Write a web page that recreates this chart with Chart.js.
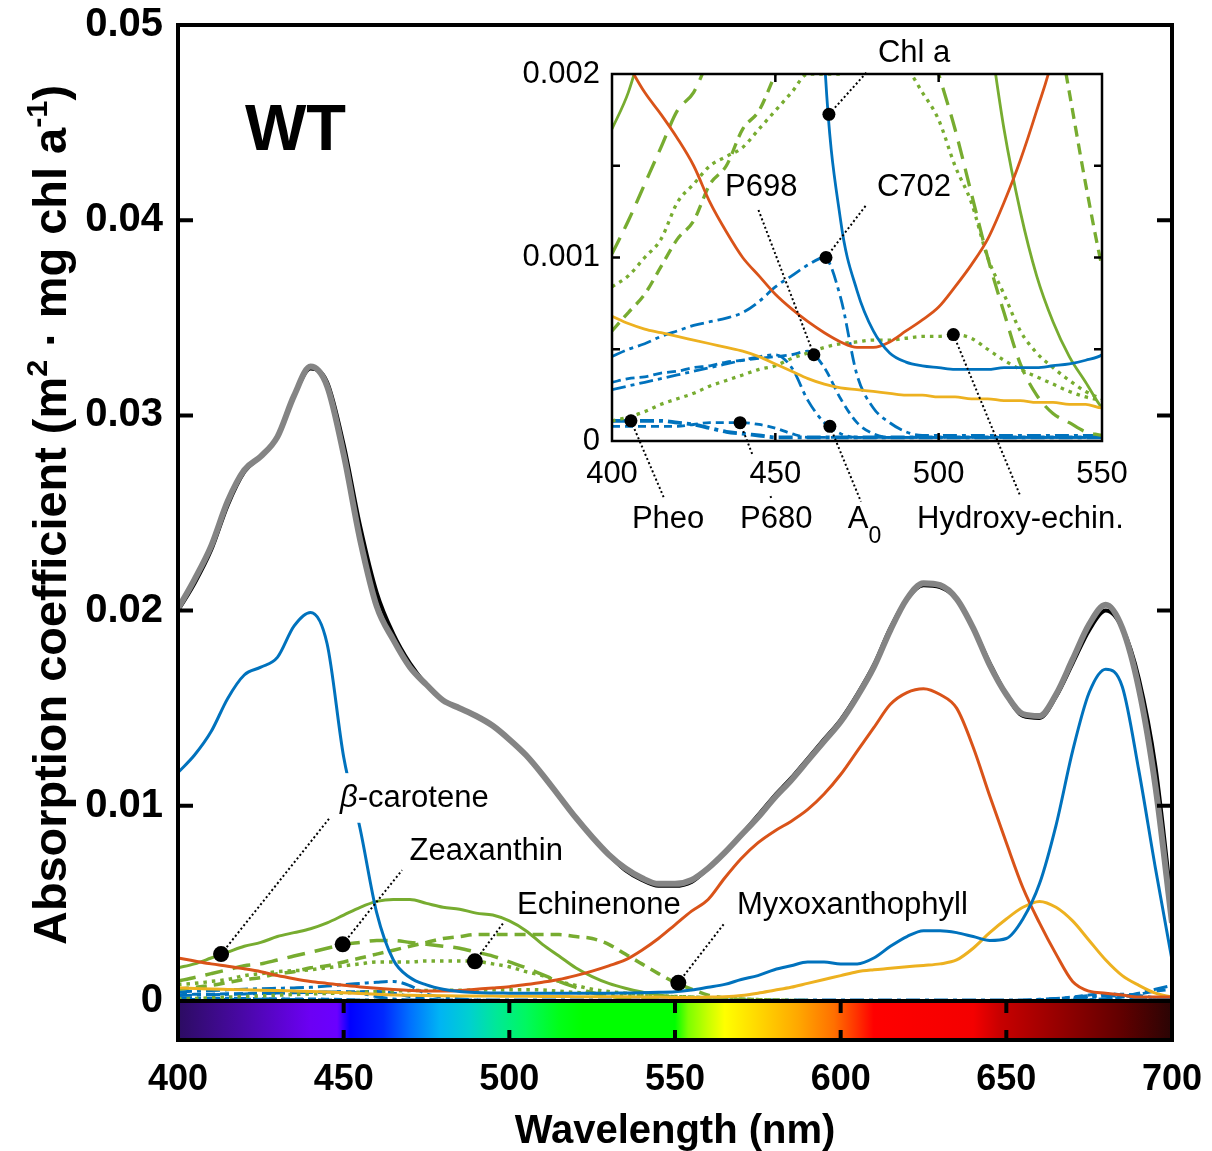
<!DOCTYPE html>
<html>
<head>
<meta charset="utf-8">
<script src="https://cdn.jsdelivr.net/npm/chart.js@4.4.0/dist/chart.umd.min.js"></script>
<style>
  html, body { margin: 0; padding: 0; background: #fff; }
  #wrap { position: relative; width: 1212px; height: 1151px; overflow: hidden; }
  #main { position: absolute; left: 0; top: 0; }
  #inset { position: absolute; left: 480px; top: 20px; }
</style>
</head>
<body>
<div id="wrap">
  <canvas id="main" width="1212" height="1151"></canvas>
  <canvas id="inset" width="680" height="540"></canvas>
</div>
<script>
// wavelength grid (nm), rows of 10: 400-445, 450-495, 500-545, 550-595, 600-645, 650-695, 700
const wavelengths = [
  400,405,410,415,420,425,430,435,440,445,
  450,455,460,465,470,475,480,485,490,495,
  500,505,510,515,520,525,530,535,540,545,
  550,555,560,565,570,575,580,585,590,595,
  600,605,610,615,620,625,630,635,640,645,
  650,655,660,665,670,675,680,685,690,695,
  700
];

// measured total absorption (black)
const totalMeasured = [
  0.0200,0.0214,0.0231,0.0254,0.0271,0.0279,0.0289,0.0310,0.0324,0.0317,
  0.0285,0.0243,0.0209,0.0188,0.0173,0.0162,0.0154,0.0150,0.0146,0.0141,
  0.0134,0.0126,0.0116,0.0105,0.0094,0.0084,0.0075,0.0067,0.0062,0.0059,
  0.0059,0.0061,0.0068,0.0076,0.0085,0.0095,0.0105,0.0114,0.0124,0.0134,
  0.0144,0.0157,0.0172,0.0191,0.0206,0.0213,0.0212,0.0206,0.0191,0.0173,
  0.0157,0.0146,0.0145,0.0156,0.0173,0.0190,0.0200,0.0191,0.0165,0.0120,
  0.0048
];
// reconstructed sum (grey)
const totalFitted = [
  0.0201,0.0216,0.0233,0.0256,0.0272,0.0279,0.0289,0.0310,0.0325,0.0315,
  0.0280,0.0236,0.0202,0.0185,0.0171,0.0162,0.0154,0.0150,0.0146,0.0141,
  0.0134,0.0126,0.0116,0.0105,0.0094,0.0084,0.0075,0.0068,0.0063,0.0060,
  0.0060,0.0062,0.0068,0.0076,0.0085,0.0094,0.0104,0.0113,0.0123,0.0133,
  0.0143,0.0156,0.0171,0.0190,0.0206,0.0214,0.0213,0.0206,0.0191,0.0172,
  0.0157,0.0147,0.0146,0.0157,0.0175,0.0193,0.0203,0.0191,0.0160,0.0110,
  0.0040
];
const chlA = [
  0.0117,0.0126,0.0138,0.0155,0.0167,0.0171,0.0176,0.0192,0.0199,0.0183,
  0.0125,0.0088,0.0045,0.0021,0.0012,0.00082,0.0006,0.00048,0.00043,0.00041,
  0.0004,0.00039,0.00039,0.00039,0.0004,0.0004,0.0004,0.00041,0.00042,0.00044,
  0.00047,0.00056,0.0007,0.00085,0.0011,0.0013,0.0016,0.0018,0.0020,0.0020,
  0.0019,0.0019,0.0022,0.0028,0.0033,0.0036,0.0036,0.0035,0.0033,0.0031,
  0.0032,0.0042,0.0060,0.0090,0.0128,0.0158,0.0170,0.0161,0.0118,0.0068,
  0.0021
];
const phycocyanin = [
  0.0022,0.00205,0.0019,0.00178,0.00165,0.0015,0.0013,0.00114,0.001,0.0009,
  0.0008,0.00072,0.00065,0.00059,0.00054,0.00051,0.00051,0.00054,0.0006,0.00066,
  0.00073,0.00084,0.00096,0.0011,0.0013,0.00153,0.0018,0.0021,0.0026,0.0032,
  0.0039,0.0046,0.0052,0.0063,0.0073,0.0081,0.0087,0.0092,0.0098,0.0106,
  0.0116,0.0128,0.0140,0.0152,0.0158,0.0160,0.0157,0.0150,0.0130,0.0105,
  0.0081,0.0058,0.0040,0.0024,0.0010,0.0005,0.0004,0.0003,0.0002,0.0002,
  0.0002
];
const allophycocyanin = [
  0.00068,0.00064,0.00061,0.00059,0.00057,0.00055,0.00053,0.00051,0.00049,0.00046,
  0.00042,0.00038,0.00034,0.00031,0.00029,0.00028,0.00027,0.00026,0.00025,0.00025,
  0.00024,0.00024,0.00023,0.00023,0.00022,0.00022,0.00021,0.00021,0.0002,0.0002,
  0.00018,0.00018,0.0002,0.00022,0.00028,0.0004,0.00055,0.0007,0.0009,0.0011,
  0.0013,0.0015,0.0016,0.00167,0.00175,0.00182,0.0019,0.0021,0.0027,0.0035,
  0.0042,0.0048,0.0051,0.0048,0.0041,0.0031,0.0021,0.0013,0.0008,0.0004,
  0.0002
];
const betaCarotene = [
  0.0017,0.0019,0.0022,0.0025,0.0028,0.0030,0.0033,0.0035,0.0037,0.0040,
  0.0044,0.0048,0.0051,0.0052,0.0052,0.0050,0.0048,0.0047,0.0045,0.0044,
  0.0041,0.0036,0.0029,0.0023,0.0017,0.00125,0.0009,0.00065,0.00046,0.00032,
  0.00018,0.0001,0.00006,0.00003,0.00002,0.00001,0,0,0,0,
  0,0,0,0,0,0,0,0,0,0,
  0,0,0,0,0,0,0,0,0,0,
  0
];
const zeaxanthin = [
  0.00102,0.0012,0.0014,0.0016,0.0018,0.0019,0.0021,0.0023,0.0025,0.0027,
  0.0029,0.0030,0.0031,0.0031,0.0030,0.0029,0.0028,0.0027,0.0025,0.0023,
  0.0020,0.0017,0.00135,0.0010,0.0007,0.00042,0.00025,0.00015,0.0001,0.00005,
  0.00003,0,0,0,0,0,0,0,0,0,
  0,0,0,0,0,0,0,0,0,0,
  0,0,0,0,0,0,0,0,0,0,
  0
];
const myxoxanthophyll = [
  0.0006,0.0007,0.0008,0.00095,0.0011,0.0012,0.0014,0.0015,0.0017,0.0018,
  0.0020,0.0022,0.0024,0.0026,0.0028,0.0030,0.0032,0.0033,0.0034,0.0034,
  0.0034,0.0034,0.0034,0.0034,0.0033,0.0032,0.0029,0.0024,0.0019,0.0014,
  0.00095,0.0006,0.0003,0.00015,0.00005,0,0,0,0,0,
  0,0,0,0,0,0,0,0,0,0,
  0,0,0,0,0,0,0,0,0,0,
  0
];
const echinenone = [
  0.00084,0.0009,0.001,0.0011,0.0013,0.0014,0.0015,0.00155,0.0016,0.0017,
  0.0018,0.0019,0.0020,0.0020,0.0020,0.00205,0.00205,0.00205,0.00203,0.0019,
  0.00175,0.0015,0.0013,0.001,0.0008,0.0006,0.00048,0.0004,0.00033,0.00027,
  0.00023,0.0002,0.00015,0.00012,0.0001,0.00007,0.00005,0.00003,0.00002,0,
  0,0,0,0,0,0,0,0,0,0,
  0,0,0,0,0,0,0,0,0,0,
  0
];
const hydroxyEchinenone = [
  0.00011,0.00013,0.00016,0.0002,0.00023,0.00026,0.0003,0.00033,0.00036,0.00039,
  0.00041,0.00045,0.00048,0.00051,0.00053,0.00054,0.00055,0.00055,0.00056,0.00057,
  0.00057,0.00058,0.00056,0.0005,0.00044,0.00039,0.00035,0.00031,0.00027,0.00024,
  0.00022,0.0002,0.00017,0.00014,0.0001,0.00007,0.00005,0.00003,0.00002,0,
  0,0,0,0,0,0,0,0,0,0,
  0,0,0,0,0,0,0,0,0,0,
  0
];
const c702 = [
  0.00046,0.0005,0.00053,0.00057,0.0006,0.00063,0.00065,0.00067,0.0007,0.00076,
  0.00084,0.0009,0.00096,0.001,0.00078,0.00036,0.00018,0.0001,0.00005,0.00003,
  0.00003,0.00003,0.00003,0.00003,0.00003,0.00003,0.00003,0.00003,0.00003,0.00003,
  0.00003,0.00003,0.00003,0.00003,0.00003,0.00003,0.00003,0.00003,0.00003,0.00003,
  0.00003,0.00003,0.00003,0.00003,0.00003,0.00003,0.00003,0.00003,0.00003,0.00003,
  0.00003,0.00003,0.00003,0.00003,0.00004,0.00006,0.00012,0.00022,0.0004,0.0006,
  0.0008
];
const p698 = [
  0.00032,0.00034,0.00035,0.00037,0.00038,0.0004,0.00041,0.00043,0.00044,0.00045,
  0.00046,0.00047,0.00049,0.0004,0.00023,0.0001,0.00004,0.00002,0.00002,0.00002,
  0.00002,0.00002,0.00002,0.00002,0.00002,0.00002,0.00002,0.00002,0.00002,0.00002,
  0.00002,0.00002,0.00002,0.00002,0.00002,0.00002,0.00002,0.00002,0.00002,0.00002,
  0.00002,0.00002,0.00002,0.00002,0.00002,0.00002,0.00002,0.00002,0.00002,0.00002,
  0.00002,0.00002,0.00002,0.00002,0.00002,0.00005,0.0001,0.0002,0.00035,0.0005,
  0.0006
];
const a0 = [
  0.00028,0.0003,0.00032,0.00034,0.00036,0.00038,0.0004,0.00042,0.00044,0.00046,
  0.00047,0.0004,0.00022,0.0001,0.00004,0.00002,0.00002,0.00002,0.00002,0.00002,
  0.00002,0.00002,0.00002,0.00002,0.00002,0.00002,0.00002,0.00002,0.00002,0.00002,
  0.00002,0.00002,0.00002,0.00002,0.00002,0.00002,0.00002,0.00002,0.00002,0.00002,
  0.00002,0.00002,0.00002,0.00002,0.00002,0.00002,0.00002,0.00002,0.00002,0.00002,
  0.00002,0.00002,0.00002,0.00005,0.0001,0.00018,0.00028,0.00034,0.00028,0.00016,
  0.00008
];
const p680 = [
  0.00008,0.00008,0.00008,0.00008,0.00008,0.00009,0.0001,0.0001,0.0001,0.00009,
  0.00007,0.00004,0.00002,0.00002,0.00002,0.00002,0.00002,0.00002,0.00002,0.00002,
  0.00002,0.00002,0.00002,0.00002,0.00002,0.00002,0.00002,0.00002,0.00002,0.00002,
  0.00002,0.00002,0.00002,0.00002,0.00002,0.00002,0.00002,0.00002,0.00002,0.00002,
  0.00002,0.00002,0.00002,0.00002,0.00002,0.00002,0.00002,0.00002,0.00002,0.00002,
  0.00002,0.00004,0.00007,0.00012,0.0002,0.0003,0.00038,0.0003,0.00016,0.00008,
  0.00004
];
const pheo = [
  0.00011,0.00011,0.00011,0.00011,0.0001,0.00009,0.00007,0.00005,0.00004,0.00003,
  0.00002,0.00002,0.00002,0.00002,0.00002,0.00002,0.00002,0.00002,0.00002,0.00002,
  0.00002,0.00002,0.00002,0.00002,0.00002,0.00002,0.00002,0.00002,0.00002,0.00002,
  0.00002,0.00002,0.00002,0.00002,0.00002,0.00002,0.00002,0.00002,0.00002,0.00002,
  0.00002,0.00002,0.00002,0.00002,0.00002,0.00002,0.00002,0.00002,0.00002,0.00002,
  0.00002,0.00002,0.00006,0.0001,0.00015,0.00025,0.0003,0.00025,0.00015,0.0001,
  0.00006
];

// axes
const xTicksMain = [400, 450, 500, 550, 600, 650, 700];
const yTicksMain = [0, 0.01, 0.02, 0.03, 0.04, 0.05];
const yTickLabelsMain = ['0', '0.01', '0.02', '0.03', '0.04', '0.05'];
const xTicksInset = [400, 450, 500, 550];
const yTicksInset = [0, 0.001, 0.002];
const yTickLabelsInset = ['0', '0.001', '0.002'];
const insetXMarks = [450, 500];
const insetYMarks = [0.0005, 0.001, 0.0015];

// visible spectrum strip under the axis
const spectrumStops = [
  [400,'#2c0c62'],[420,'#4a08a8'],[440,'#6c00f4'],[448,'#6a00ff'],[452,'#0000ff'],
  [462,'#0028ff'],[470,'#0070ff'],[479,'#00b4f4'],[488,'#00d0d0'],[496,'#00e898'],
  [505,'#00f860'],[515,'#00ff18'],[522,'#00ff00'],[550,'#00ff00'],[554,'#7cff00'],
  [560,'#c8ff00'],[565,'#ffff00'],[575,'#ffd800'],[587,'#ffa800'],[598,'#ff7000'],
  [605,'#ff3000'],[610,'#ff0000'],[640,'#f40000'],[648,'#c80000'],[665,'#980000'],
  [685,'#600000'],[700,'#2a0404']
];

const FONT = '"Liberation Sans", Arial, Helvetica, sans-serif';
const BLUE = '#0072BD', RED = '#D95319', YELLOW = '#EDB120', GREEN = '#77AC30', GREY = '#848484';

function pts(vals) {
  return wavelengths.map((w, i) => ({ x: w, y: vals[i] }));
}
function line(label, vals, color, width, dash) {
  return {
    label, data: pts(vals), borderColor: color, borderWidth: width,
    borderDash: dash || [], pointRadius: 0, fill: false,
    cubicInterpolationMode: 'monotone', borderCapStyle: 'butt', clip: 0
  };
}
function pigmentSets(w) {
  return [
    line('Chl a', chlA, BLUE, w),
    line('Phycocyanin', phycocyanin, RED, w),
    line('Allophycocyanin', allophycocyanin, YELLOW, w),
    line('beta-carotene', betaCarotene, GREEN, w),
    line('Zeaxanthin', zeaxanthin, GREEN, w + 0.5, [18, 10]),
    line('Myxoxanthophyll', myxoxanthophyll, GREEN, w + 0.5, [11, 7]),
    line('Echinenone', echinenone, GREEN, w + 0.5, [3.5, 5]),
    line('Hydroxy-echinenone', hydroxyEchinenone, GREEN, w + 0.5, [3.5, 5]),
    line('C702', c702, BLUE, w, [14, 5, 4, 5]),
    line('P698', p698, BLUE, w, [9, 5]),
    line('A0', a0, BLUE, w, [14, 5, 4, 5]),
    line('P680', p680, BLUE, w, [8, 5]),
    line('Pheo', pheo, BLUE, w + 1, [14, 5, 4, 5])
  ];
}

// labels with a dot on the curve and a dotted leader
const mainNotes = [
  { pieces: [{ t: 'β', it: true }, { t: '-carotene' }], at: [448.9, 0.0104], dot: [413, 0.0024],
    leaders: [[[413, 0.0024], [445.9, 0.0094]]], bg: true },
  { pieces: [{ t: 'Zeaxanthin' }], at: [469.9, 0.00768], dot: [449.7, 0.0029],
    leaders: [[[449.7, 0.0029], [467.6, 0.0067]]] },
  { pieces: [{ t: 'Echinenone' }], at: [502.3, 0.00487], dot: [489.6, 0.00203],
    leaders: [[[489.6, 0.00203], [498.2, 0.0040]]] },
  { pieces: [{ t: 'Myxoxanthophyll' }], at: [568.7, 0.00487], dot: [551, 0.00093],
    leaders: [[[551, 0.00093], [565, 0.0040]]] }
];
const insetNotes = [
  { pieces: [{ t: 'Chl a' }], at: [481.4, 0.00211], dot: [466.4, 0.00178],
    leaders: [[[466.4, 0.00178], [478, 0.00201]]] },
  { pieces: [{ t: 'P698' }], at: [434.6, 0.00138], dot: [461.8, 0.00047],
    leaders: [[[461.8, 0.00047], [444.6, 0.00127]]] },
  { pieces: [{ t: 'C702' }], at: [481.1, 0.00138], dot: [465.5, 0.001],
    leaders: [[[465.5, 0.001], [478, 0.00129]]] },
  { pieces: [{ t: 'Pheo' }], at: [406.1, -0.00043], dot: [405.8, 0.00011],
    leaders: [[[405.8, 0.00011], [415.9, -0.00031]]] },
  { pieces: [{ t: 'P680' }], at: [439.2, -0.00043], dot: [439.2, 0.0001],
    leaders: [[[439.2, 0.0001], [442.9, -0.00007]], [[448.5, -0.0003], [449, -0.00032]]] },
  { pieces: [{ t: 'A' }, { t: '0', sub: true }], at: [472.2, -0.00043], dot: [466.7, 0.00008],
    leaders: [[[466.7, 0.00008], [476.2, -0.00033]]] },
  { pieces: [{ t: 'Hydroxy-echin.' }], at: [493.4, -0.00043], dot: [504.5, 0.00058],
    leaders: [[[504.5, 0.00058], [525, -0.0003]]] }
];

function drawNote(ctx, xs, ys, n, r, fs) {
  const P = p => [xs.getPixelForValue(p[0]), ys.getPixelForValue(p[1])];
  ctx.save();
  ctx.strokeStyle = '#000';
  ctx.fillStyle = '#000';
  ctx.lineWidth = 2;
  ctx.setLineDash([2, 2.5]);
  n.leaders.forEach(seg => {
    const s = P(seg[0]), e = P(seg[1]);
    ctx.beginPath(); ctx.moveTo(s[0], s[1]); ctx.lineTo(e[0], e[1]); ctx.stroke();
  });
  ctx.setLineDash([]);
  const t = P(n.at);
  ctx.textBaseline = 'middle';
  ctx.textAlign = 'left';
  const fontOf = p => (p.it ? 'italic ' : '') + (p.sub ? Math.round(fs * 0.75) : fs) + 'px ' + FONT;
  let total = 0;
  n.pieces.forEach(p => { ctx.font = fontOf(p); p.w = ctx.measureText(p.t).width; total += p.w; });
  if (n.bg) {
    ctx.fillStyle = '#fff';
    ctx.fillRect(t[0] - 4, t[1] - fs * 0.8, total + 8, fs * 1.6);
    ctx.fillStyle = '#000';
  }
  let cx = t[0];
  n.pieces.forEach(p => {
    ctx.font = fontOf(p);
    ctx.fillText(p.t, cx, p.sub ? t[1] + fs * 0.55 : t[1]);
    cx += p.w;
  });
  const d = P(n.dot);
  ctx.beginPath(); ctx.arc(d[0], d[1], r, 0, Math.PI * 2); ctx.fill();
  ctx.restore();
}

function drawYTitle(ctx, cx, cy, len) {
  const parts = [
    { t: 'Absorption coefficient (m' }, { t: '2', sup: true },
    { t: ' · mg chl a' }, { t: '-1', sup: true }, { t: ')' }
  ];
  const fs = 46, fsSup = 30;
  ctx.save();
  let total = 0;
  parts.forEach(p => { ctx.font = 'bold ' + (p.sup ? fsSup : fs) + 'px ' + FONT; p.w = ctx.measureText(p.t).width; total += p.w; });
  ctx.translate(cx, cy);
  ctx.rotate(-Math.PI / 2);
  ctx.scale(len / total, 1);
  ctx.fillStyle = '#000';
  ctx.textBaseline = 'alphabetic';
  ctx.textAlign = 'left';
  let x = -total / 2;
  parts.forEach(p => {
    ctx.font = 'bold ' + (p.sup ? fsSup : fs) + 'px ' + FONT;
    ctx.fillText(p.t, x, p.sup ? -19 : 0);
    x += p.w;
  });
  ctx.restore();
}

// keep the plot box where the layout padding puts it
function noEdgePadding(s) {
  s.paddingTop = 0; s.paddingBottom = 0; s.paddingLeft = 0; s.paddingRight = 0;
}

const mainDecor = {
  id: 'mainDecor',
  beforeDatasetsDraw(chart) {
    const { ctx, chartArea: a, scales: { x, y } } = chart;
    const y0 = y.getPixelForValue(0);
    const g = ctx.createLinearGradient(a.left, 0, a.right, 0);
    spectrumStops.forEach(([w, c]) => g.addColorStop((x.getPixelForValue(w) - a.left) / (a.right - a.left), c));
    ctx.save();
    ctx.fillStyle = g;
    ctx.fillRect(a.left, y0, a.right - a.left, a.bottom - y0);
    ctx.restore();
  },
  afterDatasetsDraw(chart) {
    const { ctx, chartArea: a, scales: { x, y } } = chart;
    const y0 = y.getPixelForValue(0);
    ctx.save();
    ctx.strokeStyle = '#000';
    ctx.lineWidth = 4;
    ctx.beginPath();
    ctx.moveTo(a.left, y0); ctx.lineTo(a.right, y0);
    yTicksMain.forEach(v => {
      if (v <= 0 || v >= 0.05) return;
      const py = y.getPixelForValue(v);
      ctx.moveTo(a.left, py); ctx.lineTo(a.left + 15, py);
      ctx.moveTo(a.right, py); ctx.lineTo(a.right - 15, py);
    });
    xTicksMain.forEach(v => {
      if (v <= 400 || v >= 700) return;
      const px = x.getPixelForValue(v);
      ctx.moveTo(px, y0); ctx.lineTo(px, y0 + 12);
      ctx.moveTo(px, a.bottom); ctx.lineTo(px, a.bottom - 10);
    });
    ctx.stroke();
    ctx.strokeRect(a.left, a.top, a.right - a.left, a.bottom - a.top);
    ctx.restore();

    mainNotes.forEach(n => drawNote(ctx, x, y, n, 8, 31));

    ctx.save();
    ctx.fillStyle = '#000';
    ctx.font = 'bold 65px ' + FONT;
    ctx.textBaseline = 'alphabetic';
    ctx.textAlign = 'left';
    ctx.fillText('WT', x.getPixelForValue(420.2), y.getPixelForValue(0.0436));
    ctx.restore();
  },
  afterDraw(chart) {
    const { ctx, chartArea: a } = chart;
    drawYTitle(ctx, 66, 515, 860);
    ctx.save();
    ctx.fillStyle = '#000';
    ctx.font = 'bold 40px ' + FONT;
    ctx.textAlign = 'center';
    ctx.textBaseline = 'alphabetic';
    ctx.fillText('Wavelength (nm)', (a.left + a.right) / 2, 1143);
    ctx.restore();
  }
};

const insetDecor = {
  id: 'insetDecor',
  beforeDatasetsDraw(chart) {
    const { ctx, chartArea: a } = chart;
    ctx.save();
    ctx.fillStyle = '#fff';
    ctx.fillRect(a.left, a.top, a.right - a.left, a.bottom - a.top);
    ctx.restore();
  },
  afterDatasetsDraw(chart) {
    const { ctx, chartArea: a, scales: { x, y } } = chart;
    ctx.save();
    ctx.strokeStyle = '#000';
    ctx.lineWidth = 2.5;
    ctx.beginPath();
    insetYMarks.forEach(v => {
      const py = y.getPixelForValue(v);
      ctx.moveTo(a.left, py); ctx.lineTo(a.left + 8, py);
      ctx.moveTo(a.right, py); ctx.lineTo(a.right - 8, py);
    });
    insetXMarks.forEach(v => {
      const px = x.getPixelForValue(v);
      ctx.moveTo(px, a.top); ctx.lineTo(px, a.top + 8);
      ctx.moveTo(px, a.bottom); ctx.lineTo(px, a.bottom - 8);
    });
    ctx.stroke();
    ctx.strokeRect(a.left, a.top, a.right - a.left, a.bottom - a.top);
    ctx.restore();
    insetNotes.forEach(n => drawNote(ctx, x, y, n, 6.5, 31));
  }
};

Chart.defaults.font.family = FONT;
Chart.defaults.color = '#000';

new Chart(document.getElementById('main'), {
  type: 'line',
  data: {
    datasets: [
      line('Fitted sum', totalFitted, GREY, 6),
      line('Measured', totalMeasured, '#000', 4),
      ...pigmentSets(3)
    ]
  },
  options: {
    responsive: false,
    animation: false,
    layout: { padding: { left: 0, right: 40, top: 25, bottom: 0 }, autoPadding: false },
    plugins: { legend: { display: false }, tooltip: { enabled: false } },
    scales: {
      x: {
        type: 'linear', min: 400, max: 700,
        grid: { display: false, drawTicks: false }, border: { display: false },
        afterBuildTicks: s => { s.ticks = xTicksMain.map(v => ({ value: v })); },
        afterFit: s => { s.height = 111; noEdgePadding(s); },
        ticks: { font: { size: 36, weight: 'bold' }, color: '#000', padding: 18, maxRotation: 0 }
      },
      y: {
        type: 'linear', min: -0.002, max: 0.05,
        grid: { display: false, drawTicks: false }, border: { display: false },
        afterBuildTicks: s => { s.ticks = yTicksMain.map(v => ({ value: v })); },
        afterFit: s => { s.width = 178; noEdgePadding(s); },
        ticks: { font: { size: 40, weight: 'bold' }, color: '#000', padding: 15,
                 callback: (v, i) => yTickLabelsMain[i] }
      }
    }
  },
  plugins: [mainDecor]
});

new Chart(document.getElementById('inset'), {
  type: 'line',
  data: { datasets: pigmentSets(2.8) },
  options: {
    responsive: false,
    animation: false,
    layout: { padding: { left: 0, right: 58, top: 54, bottom: 0 }, autoPadding: false },
    plugins: { legend: { display: false }, tooltip: { enabled: false } },
    scales: {
      x: {
        type: 'linear', min: 400, max: 550,
        grid: { display: false, drawTicks: false }, border: { display: false },
        afterBuildTicks: s => { s.ticks = xTicksInset.map(v => ({ value: v })); },
        afterFit: s => { s.height = 119; noEdgePadding(s); },
        ticks: { font: { size: 31 }, color: '#000', padding: 15, maxRotation: 0 }
      },
      y: {
        type: 'linear', min: 0, max: 0.002,
        grid: { display: false, drawTicks: false }, border: { display: false },
        afterBuildTicks: s => { s.ticks = yTicksInset.map(v => ({ value: v })); },
        afterFit: s => { s.width = 132; noEdgePadding(s); },
        ticks: { font: { size: 31 }, color: '#000', padding: 12,
                 callback: (v, i) => yTickLabelsInset[i] }
      }
    }
  },
  plugins: [insetDecor]
});
</script>
</body>
</html>
